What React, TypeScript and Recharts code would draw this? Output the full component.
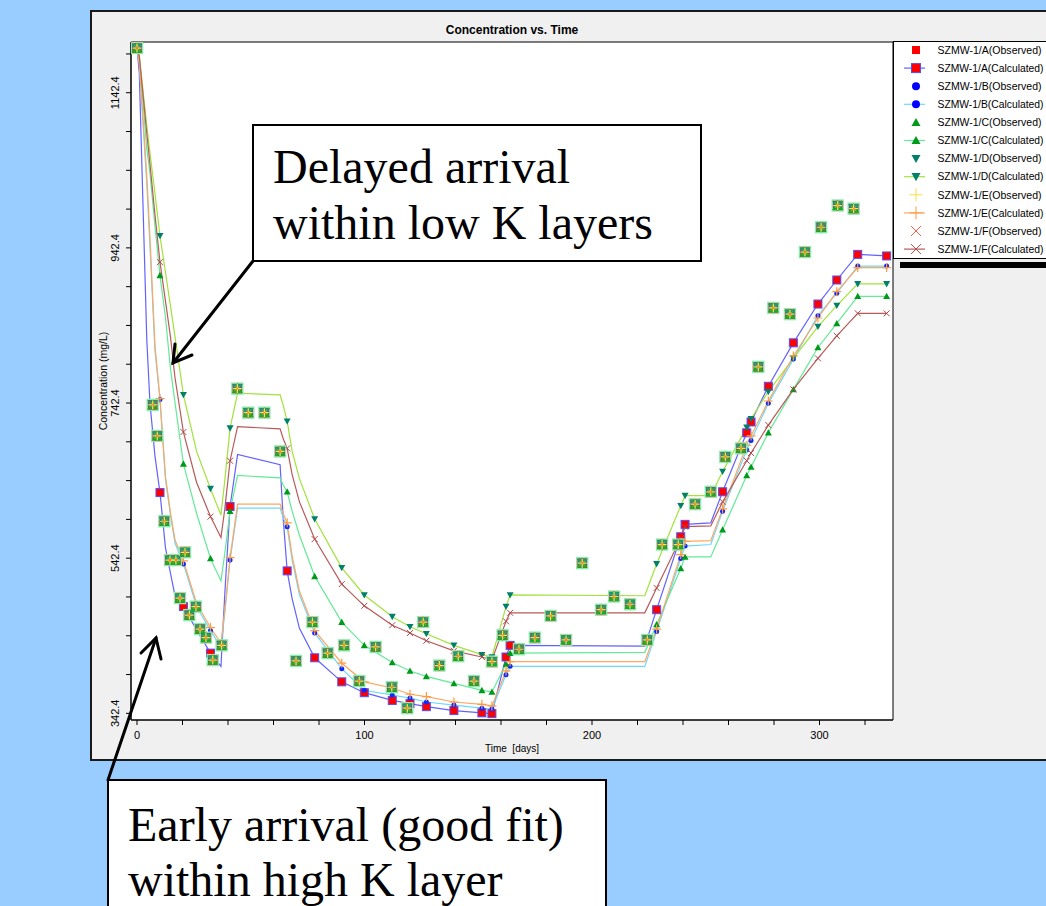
import React from "react";
import {
  ComposedChart,
  Line,
  Scatter,
  XAxis,
  YAxis,
  CartesianGrid,
  ReferenceArea,
} from "recharts";

// model output days, shared by the six calculated curves
const simDays = [
  0, 1, 4.3, 5.7, 7.9, 10.1, 12.5, 14.7, 16.7, 20.4, 26.2, 32.3, 36.9, 38.6, 40.9,
  44.2, 62.9, 64.2, 66, 68.2, 71.4, 78.1, 90, 99.9, 112.2, 120, 127.2, 139.3, 151.6, 156,
  162.2, 164, 223.2, 228.4, 239, 240.9, 252.2, 257.4, 268, 269.9, 277.5, 288.5, 299.3,
  307.6, 316.8, 329.5,
];

const calcA = [
  1200, 1168, 824, 742, 674, 627, 556, 523, 494, 480, 450, 420, 403, 497, 609,
  676, 663, 596, 526, 490, 452, 414, 383, 369, 359, 355, 351, 346, 343, 342,
  415, 430, 429, 476, 570, 586, 588, 628, 704, 718, 764, 820, 870, 901, 934, 932,
];
const calcB = [
  1200, 1180, 1025, 945, 810, 747, 645, 598, 562, 535, 480, 449, 428, 472, 540,
  607, 607, 595, 583, 540, 495, 446, 400, 372, 366, 362, 357, 353, 349, 348,
  392, 403, 403, 448, 542, 558, 560, 603, 682, 694, 742, 799, 855, 884, 919, 919,
];
const calcC = [
  1200, 1188, 1070, 1039, 970, 907, 853, 787, 743, 664, 600, 542, 513, 549, 603,
  649, 646, 637, 628, 603, 572, 519, 460, 430, 408, 397, 390, 381, 372, 370,
  406, 420, 421, 457, 529, 544, 544, 579, 649, 660, 704, 760, 814, 845, 880, 880,
];
const calcD = [
  1200, 1190, 1100, 1065, 1012, 958, 911, 868, 828, 753, 680, 632, 598, 643, 710,
  755, 753, 740, 719, 680, 645, 593, 530, 495, 467, 454, 445, 430, 418, 415,
  480, 495, 494, 535, 610, 623, 623, 654, 711, 722, 757, 800, 841, 868, 896, 896,
];
const calcE = [
  1200, 1182, 1035, 955, 816, 748, 648, 601, 566, 539, 484, 453, 433, 475, 543,
  612, 612, 600, 588, 545, 500, 449, 407, 383, 375, 367, 364, 357, 354, 352,
  397, 409, 409, 451, 547, 564, 565, 606, 688, 700, 745, 803, 852, 886, 917, 917,
];
const calcF = [
  1200, 1190, 1090, 1050, 985, 924, 874, 828, 775, 705, 640, 596, 569, 606, 668,
  712, 709, 697, 684, 650, 615, 567, 509, 481, 456, 446, 436, 423, 415, 411,
  461, 472, 472, 504, 568, 583, 584, 615, 668, 678, 714, 760, 800, 829, 858, 858,
];

// days where the calculated curves carry a symbol
const markDays = [
  10.1, 20.4, 32.3, 40.9, 66, 78.1, 90, 99.9, 112.2, 120, 127.2, 139.3, 151.6, 156,
  162.2, 164, 228.4, 239, 240.9, 257.4, 268, 269.9, 277.5, 288.5, 299.3, 307.6, 316.8, 329.5,
];

// observed concentrations (the six wells share the same samples)
const obsDays = [
  0, 6.9, 8.9, 12.0, 14.5, 17.1, 18.9, 21.1, 23.0, 25.9, 27.7, 30.3, 33.3, 37.2,
  44.1, 48.9, 56.0, 62.9, 69.9, 77.1, 83.8, 91.0, 97.7, 104.9, 112.0, 118.8, 125.8,
  132.9, 141.2, 148.1, 156.0, 160.7, 167.9, 174.9, 181.8, 188.6, 195.7, 204.0, 209.7,
  216.7, 224.3, 230.8, 237.9, 245.3, 252.2, 258.6, 265.5, 273.1, 279.7, 287.0, 293.6,
  300.7, 308.0, 315.0,
];
const obsConc = [
  1200, 740, 700, 590, 540, 540, 491, 550, 469, 480, 451, 440, 411, 430,
  761, 730, 730, 680, 410, 460, 420, 430, 384, 428, 376, 349, 460,
  404, 416, 384, 409, 443, 425, 440, 468, 437, 536, 476, 493,
  483, 437, 560, 560, 612, 628, 673, 684, 789, 865, 857, 937,
  969, 997, 993,
];

const xTicks = [0, 20, 40, 60, 80, 100, 120, 140, 160, 180, 200, 220, 240, 260, 280, 300, 320];
const xLabels = [0, 100, 200, 300];
const yTicks = [
  342.4, 392.4, 442.4, 492.4, 542.4, 592.4, 642.4, 692.4, 742.4, 792.4, 842.4, 892.4,
  942.4, 992.4, 1042.4, 1092.4, 1142.4, 1192.4,
];
const yLabels = [342.4, 542.4, 742.4, 942.4, 1142.4];

const X_DOMAIN: [number, number] = [-2.64, 332.3];
const Y_DOMAIN: [number, number] = [333.8, 1207.8];

type Kind = "square" | "circle" | "tri" | "triDown" | "plus" | "cross";
interface G { kind: Kind; size: number; fill?: string; stroke?: string; sw?: number }

function Glyph({ x, y, g }: { x: number; y: number; g: G }) {
  const h = g.size / 2;
  const fill = g.fill ?? "none";
  const stroke = g.stroke ?? "none";
  const sw = g.sw ?? 1;
  switch (g.kind) {
    case "square":
      return <rect x={x - h} y={y - h} width={g.size} height={g.size} fill={fill} stroke={stroke} strokeWidth={sw} />;
    case "circle":
      return <circle cx={x} cy={y} r={h} fill={fill} stroke={stroke} strokeWidth={sw} />;
    case "tri":
      return <polygon points={`${x},${y - h} ${x + h},${y + h * 0.8} ${x - h},${y + h * 0.8}`} fill={fill} stroke={stroke} strokeWidth={sw} />;
    case "triDown":
      return <polygon points={`${x - h},${y - h * 0.8} ${x + h},${y - h * 0.8} ${x},${y + h}`} fill={fill} stroke={stroke} strokeWidth={sw} />;
    case "plus":
      return <path d={`M${x - h},${y}H${x + h}M${x},${y - h}V${y + h}`} stroke={stroke} strokeWidth={sw} fill="none" />;
    default:
      return <path d={`M${x - h},${y - h}L${x + h},${y + h}M${x + h},${y - h}L${x - h},${y + h}`} stroke={stroke} strokeWidth={sw} fill="none" />;
  }
}

const wells = [
  {
    id: "A", values: calcA, line: "#6262ff",
    obs: { kind: "square", size: 11, fill: "#ff2020", stroke: "#86f0b0", sw: 1.4 } as G,
    mark: { kind: "square", size: 8, fill: "#ff0000", stroke: "#5050ff" } as G,
    legObs: { kind: "square", size: 8, fill: "#ff0000" } as G,
    legMark: { kind: "square", size: 9, fill: "#ff0000", stroke: "#5050ff" } as G,
  },
  {
    id: "B", values: calcB, line: "#6cd8ff",
    obs: { kind: "circle", size: 9, fill: "#2a3cff" } as G,
    mark: { kind: "circle", size: 5, fill: "#0a2aff" } as G,
    legObs: { kind: "circle", size: 8, fill: "#0000ff" } as G,
    legMark: { kind: "circle", size: 8, fill: "#0000ff" } as G,
  },
  {
    id: "C", values: calcC, line: "#62ea96",
    obs: { kind: "tri", size: 11, fill: "#10b020" } as G,
    mark: { kind: "tri", size: 7, fill: "#009a1a" } as G,
    legObs: { kind: "tri", size: 9, fill: "#009a1a" } as G,
    legMark: { kind: "tri", size: 9, fill: "#009a1a" } as G,
  },
  {
    id: "D", values: calcD, line: "#a2e23c",
    obs: { kind: "triDown", size: 11, fill: "#14a070" } as G,
    mark: { kind: "triDown", size: 7, fill: "#00806a" } as G,
    legObs: { kind: "triDown", size: 9, fill: "#00806a" } as G,
    legMark: { kind: "triDown", size: 9, fill: "#00806a" } as G,
  },
  {
    id: "E", values: calcE, line: "#ffa660",
    obs: { kind: "plus", size: 9, stroke: "#ffe830", sw: 1.2 } as G,
    mark: { kind: "plus", size: 9, stroke: "#ff9a40", sw: 1.2 } as G,
    legObs: { kind: "plus", size: 13, stroke: "#f5e040" } as G,
    legMark: { kind: "plus", size: 13, stroke: "#ff9a40" } as G,
  },
  {
    id: "F", values: calcF, line: "#b85a5a",
    obs: { kind: "cross", size: 5, stroke: "#ff7a3a", sw: 1 } as G,
    mark: { kind: "cross", size: 6, stroke: "#b04848" } as G,
    legObs: { kind: "cross", size: 10, stroke: "#ff5a4a" } as G,
    legMark: { kind: "cross", size: 10, stroke: "#b04848" } as G,
  },
];

const calcRows = simDays.map((t, i) => {
  const row: Record<string, number> = { t };
  wells.forEach((w) => (row[w.id] = w.values[i]));
  return row;
});
const obsRows = obsDays.map((t, i) => ({ t, v: obsConc[i] }));
const markSet = new Set(markDays);

const sans = "'Liberation Sans', Arial, sans-serif";
const serif = "'Liberation Serif', 'Times New Roman', serif";

function XTick(p: any) {
  const { x, y, payload } = p;
  return (
    <g>
      <line x1={x} x2={x} y1={y} y2={y + 5} stroke="#000" />
      {xLabels.includes(payload.value) && (
        <text x={x} y={y + 19} textAnchor="middle" fontSize={11} fontFamily={sans} fill="#000">
          {payload.value}
        </text>
      )}
    </g>
  );
}

function YTick(p: any) {
  const { x, y, payload } = p;
  const lx = x - 12;
  return (
    <g>
      <line x1={x - 5} x2={x} y1={y} y2={y} stroke="#000" />
      {yLabels.includes(payload.value) && (
        <text x={lx} y={y} transform={`rotate(-90 ${lx} ${y})`} textAnchor="middle" fontSize={11} fontFamily={sans} fill="#000">
          {payload.value}
        </text>
      )}
    </g>
  );
}

function LegendBox() {
  const rows = wells.flatMap((w) => [
    { label: `SZMW-1/${w.id}(Observed)`, g: w.legObs, line: null as string | null, len: 104 },
    { label: `SZMW-1/${w.id}(Calculated)`, g: w.legMark, line: w.line, len: 106 },
  ]);
  return (
    <svg width={153} height={218} style={{ position: "absolute", left: 893, top: 41 }}>
      <rect x={0.5} y={0.5} width={300} height={217} fill="#fff" stroke="#000" />
      {rows.map((r, i) => {
        const cy = 9 + i * 18.1;
        return (
          <g key={i}>
            {r.line && <line x1={11} x2={32} y1={cy} y2={cy} stroke={r.line} strokeWidth={1.2} />}
            <Glyph x={23} y={cy} g={r.g} />
            <text
              x={44.5} y={cy + 3.7} fontSize={10.3} fontFamily={sans} fill="#000"
              textLength={r.len} lengthAdjust="spacingAndGlyphs"
            >
              {r.label}
            </text>
          </g>
        );
      })}
    </svg>
  );
}

export default function App() {
  return (
    <div
      style={{
        position: "absolute", left: 0, top: 0, width: 1046, height: 906,
        overflow: "hidden", background: "#99ccff", fontFamily: sans,
      }}
    >
      {/* grey chart panel */}
      <div
        style={{
          position: "absolute", left: 90, top: 10, width: 1000, height: 751,
          background: "#f0f0f0", border: "2px solid #1a1a1a", boxSizing: "border-box",
        }}
      />
      <div style={{ position: "absolute", left: 91, top: 11 }}>
        <ComposedChart width={955} height={749} data={calcRows} margin={{ top: 31, right: 153, bottom: 0, left: 0 }}>
          <CartesianGrid horizontal={false} vertical={false} fill="#ffffff" />
          <XAxis
            dataKey="t" type="number" domain={X_DOMAIN} allowDataOverflow ticks={xTicks} interval={0}
            tickSize={0} tickMargin={0} tickLine={false} tick={XTick} height={40} axisLine={{ stroke: "#000" }}
          />
          <YAxis
            type="number" domain={Y_DOMAIN} allowDataOverflow ticks={yTicks} interval={0}
            tickSize={0} tickMargin={0} tickLine={false} tick={YTick} width={40} axisLine={{ stroke: "#000" }}
          />
          <ReferenceArea
            x1={X_DOMAIN[0]} x2={X_DOMAIN[1]} y1={Y_DOMAIN[0]} y2={Y_DOMAIN[1]}
            fill="none" fillOpacity={0} stroke="#000" strokeOpacity={1} ifOverflow="visible"
          />
          {wells.map((w) => (
            <Line
              key={`calc-${w.id}`}
              type="linear"
              dataKey={w.id}
              stroke={w.line}
              strokeWidth={1.2}
              activeDot={false}
              isAnimationActive={false}
              dot={(p: any) =>
                markSet.has(p.payload.t) ? (
                  <g key={`${w.id}-${p.index}`}>
                    <Glyph x={p.cx} y={p.cy} g={w.mark} />
                  </g>
                ) : (
                  <g key={`${w.id}-${p.index}`} />
                )
              }
            />
          ))}
          {wells.map((w) => (
            <Scatter
              key={`obs-${w.id}`}
              data={obsRows}
              dataKey="v"
              isAnimationActive={false}
              shape={(p: any) => <Glyph x={p.cx} y={p.cy} g={w.obs} />}
            />
          ))}
        </ComposedChart>
      </div>
      <LegendBox />
      <div style={{ position: "absolute", left: 900, top: 262, width: 146, height: 6, background: "#000" }} />
      <svg width={1046} height={906} style={{ position: "absolute", left: 0, top: 0, pointerEvents: "none" }}>
        <text x={512} y={34} textAnchor="middle" fontSize={12} fontWeight="bold" fontFamily={sans}>
          Concentration vs. Time
        </text>
        <text x={512} y={752} textAnchor="middle" fontSize={10} fontFamily={sans} style={{ whiteSpace: "pre" }}>
          {"Time  [days]"}
        </text>
        <text x={107} y={381} transform="rotate(-90 107 381)" textAnchor="middle" fontSize={10.5} fontFamily={sans}>
          Concentration (mg/L)
        </text>

        {/* annotation: delayed arrival */}
        <rect x={253} y={125} width={448} height={136} fill="#fff" stroke="#000" strokeWidth={2} />
        <text x={273} y={183} fontSize={48} fontFamily={serif}>Delayed arrival</text>
        <text x={273} y={239} fontSize={48} fontFamily={serif}>within low K layers</text>
        <g stroke="#000" strokeWidth={3} fill="none" strokeLinecap="round">
          <line x1={253} y1={261} x2={173} y2={363} />
          <polyline points="175,344 173,363 192,355" />
        </g>

        {/* annotation: early arrival */}
        <rect x={108} y={780} width={498} height={160} fill="#fff" stroke="#000" strokeWidth={2} />
        <text x={128} y={841} fontSize={48} fontFamily={serif}>Early arrival (good fit)</text>
        <text x={128} y={896} fontSize={48} fontFamily={serif}>within high K layer</text>
        <g stroke="#000" strokeWidth={3} fill="none" strokeLinecap="round">
          <line x1={108} y1={780} x2={156} y2={638} />
          <polyline points="141,653 156,638 161,659" />
        </g>
      </svg>
    </div>
  );
}
